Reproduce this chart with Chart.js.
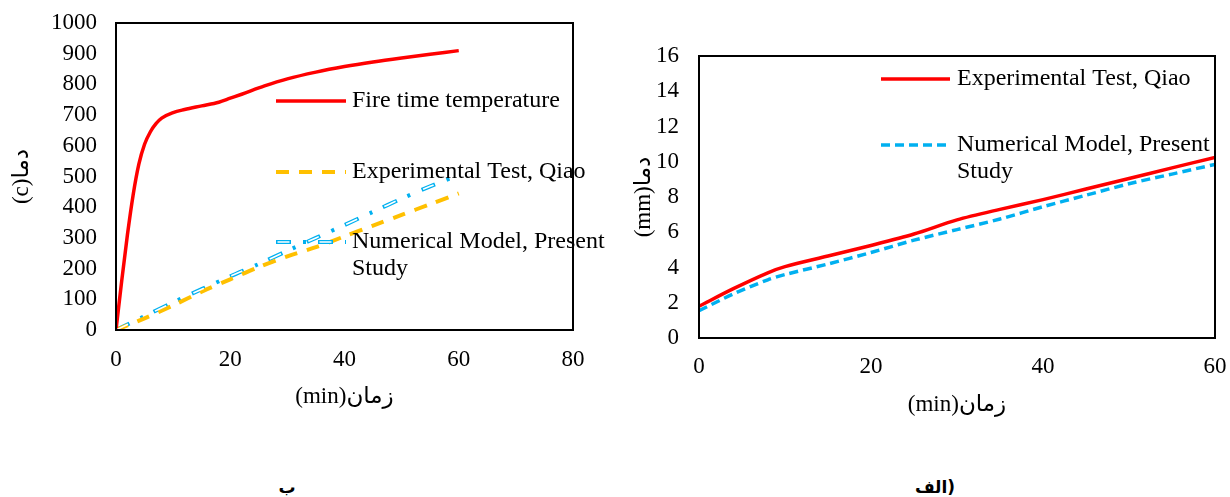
<!DOCTYPE html>
<html>
<head>
<meta charset="utf-8">
<script src="https://cdn.jsdelivr.net/npm/chart.js@4.4.1/dist/chart.umd.min.js"></script>
<style>
    body { margin: 0; background: #fff; width: 1230px; height: 497px; position: relative; overflow: hidden; }
    canvas { position: absolute; top: 0; }
    #left-chart { left: 0; }
    #right-chart { left: 615px; }
    .caption { position: absolute; top: 477px; font: bold 17px "DejaVu Sans", sans-serif; transform: translateX(-50%); white-space: nowrap; }
</style>
</head>
<body>
<canvas id="left-chart" width="615" height="430"></canvas>
<canvas id="right-chart" width="615" height="430"></canvas>
<div class="caption" style="left:287px">ب</div>
<div class="caption" style="left:935px">الف)</div>
<script>
// chart ب : temperature vs time
const fireTime = [0, 1, 2, 3, 4, 5, 6, 7, 8, 10, 12, 15, 18, 20, 22, 26, 30, 35, 40, 45, 50, 55, 60];
const fireTemp = [0, 160, 310, 440, 540, 605, 645, 672, 690, 708, 718, 730, 742, 755, 768, 795, 818, 840, 858, 873, 886, 898, 910];
const tempTime = [0, 5, 10, 15, 20, 25, 30, 35, 40, 45, 50, 55, 60];
const qiaoTemp = [0, 38, 80, 125, 165, 205, 240, 270, 305, 340, 375, 410, 445];
const numTemp = [0, 45, 90, 133, 175, 215, 258, 300, 342, 385, 428, 468, 505];

// chart الف : displacement vs time
const dispTime = [0, 4, 8, 10, 15, 20, 25, 30, 35, 40, 45, 50, 55, 60];
const qiaoDisp = [1.8, 2.8, 3.7, 4.05, 4.65, 5.25, 5.9, 6.7, 7.3, 7.85, 8.45, 9.05, 9.65, 10.25];
const numDisp = [1.55, 2.5, 3.3, 3.6, 4.2, 4.85, 5.55, 6.15, 6.75, 7.45, 8.1, 8.75, 9.3, 9.85];

const serif = '"Liberation Serif", "DejaVu Sans", serif';
const RED = '#FF0000', ORANGE = '#FFC000', BLUE = '#00B0F0';

function toPoints(xs, ys) {
    return xs.map((x, i) => ({ x: x, y: ys[i] }));
}

// box around the plot area
const framePlugin = {
    id: 'frame',
    afterDatasetsDraw(chart) {
        const { ctx, chartArea: a } = chart;
        ctx.save();
        ctx.strokeStyle = '#000';
        ctx.lineWidth = 2;
        ctx.strokeRect(a.left, a.top, a.right - a.left, a.bottom - a.top);
        ctx.restore();
    }
};

// legend drawn where the original has it, styles taken from the datasets
const legendPlugin = {
    id: 'boxLegend',
    afterDraw(chart, args, opts) {
        const ctx = chart.ctx;
        ctx.save();
        chart.data.datasets.forEach(ds => {
            const y = opts.rows[ds.row];
            ctx.beginPath();
            ctx.strokeStyle = ds.borderColor;
            ctx.lineWidth = ds.borderWidth;
            ctx.setLineDash(ds.borderDash || []);
            ctx.lineDashOffset = ds.borderDashOffset || 0;
            ctx.moveTo(opts.x1, y);
            ctx.lineTo(opts.x2, y);
            ctx.stroke();
            if (ds.overlay) return;
            ctx.setLineDash([]);
            ctx.font = '24px ' + serif;
            ctx.fillStyle = '#000';
            ctx.textBaseline = 'middle';
            [].concat(ds.label).forEach((t, k) => ctx.fillText(t, opts.textX, y + k * 27));
        });
        ctx.restore();
    }
};

function axes(cfg) {
    const tickFont = { family: serif, size: 23 };
    const titleFont = { family: serif, size: 23 };
    // invisible tick marks give the label gap without adding padding at the top
    const hiddenTicks = len => ({ display: true, drawOnChartArea: false, drawTicks: true, tickLength: len, tickColor: 'rgba(0,0,0,0)' });
    return {
        x: {
            type: 'linear', min: 0, max: cfg.xMax,
            grid: hiddenTicks(cfg.xPad), border: { display: false },
            ticks: { stepSize: 20, color: '#000', font: tickFont, padding: 0, maxRotation: 0, autoSkip: false, callback: v => String(v) },
            title: { display: true, text: '(min)زمان', color: '#000', font: titleFont, padding: 0 },
            afterFit: s => { s.height = 81; }
        },
        y: {
            min: 0, max: cfg.yMax,
            grid: hiddenTicks(cfg.yPad), border: { display: false },
            ticks: { stepSize: cfg.yStep, color: '#000', font: tickFont, padding: 0, autoSkip: false, callback: v => String(v) },
            title: { display: true, text: cfg.yTitle, color: '#000', font: titleFont, padding: { top: cfg.yTitlePad, bottom: 0 } },
            afterFit: s => { s.width = cfg.yWidth; }
        }
    };
}

Chart.defaults.animation = false;

new Chart(document.getElementById('left-chart'), {
    type: 'line',
    data: {
        datasets: [
            { label: 'Fire time temperature', row: 0, data: toPoints(fireTime, fireTemp),
              borderColor: RED, borderWidth: 3.5, cubicInterpolationMode: 'monotone', pointRadius: 0 },
            { label: 'Experimental Test, Qiao', row: 1, data: toPoints(tempTime, qiaoTemp),
              borderColor: ORANGE, borderWidth: 4, borderDash: [13, 10], tension: 0.3, pointRadius: 0 },
            { label: ['Numerical Model, Present', 'Study'], row: 2, data: toPoints(tempTime, numTemp),
              borderColor: BLUE, borderWidth: 4, borderDash: [15, 12, 3, 12], tension: 0.3, pointRadius: 0 },
            // white core inside the long blue dashes (hollow look)
            { label: '', row: 2, overlay: true, order: -1, data: toPoints(tempTime, numTemp),
              borderColor: '#fff', borderWidth: 1.6, borderDash: [12, 30], borderDashOffset: 40.5, tension: 0.3, pointRadius: 0 }
        ]
    },
    options: {
        responsive: false,
        layout: { padding: { top: 23, left: 0, right: 42, bottom: 19 } },
        plugins: {
            legend: { display: false }, tooltip: { enabled: false },
            boxLegend: { x1: 276, x2: 346, textX: 352, rows: [101, 172, 242] }
        },
        scales: axes({ xMax: 80, xPad: 16, yMax: 1000, yStep: 100, yPad: 19, yTitle: '(c)دما', yTitlePad: 8, yWidth: 116 })
    },
    plugins: [framePlugin, legendPlugin]
});

new Chart(document.getElementById('right-chart'), {
    type: 'line',
    data: {
        datasets: [
            { label: 'Experimental Test, Qiao', row: 0, data: toPoints(dispTime, qiaoDisp),
              borderColor: RED, borderWidth: 3.5, tension: 0.3, pointRadius: 0 },
            { label: ['Numerical Model, Present', 'Study'], row: 1, data: toPoints(dispTime, numDisp),
              borderColor: BLUE, borderWidth: 3.5, borderDash: [9, 5], tension: 0.3, pointRadius: 0 }
        ]
    },
    options: {
        responsive: false,
        layout: { padding: { top: 56, left: 0, right: 15, bottom: 11 } },
        plugins: {
            legend: { display: false }, tooltip: { enabled: false },
            boxLegend: { x1: 266, x2: 335, textX: 342, rows: [79, 145] }
        },
        scales: axes({ xMax: 60, xPad: 15, yMax: 16, yStep: 2, yPad: 20, yTitle: '(mm)دما', yTitlePad: 15, yWidth: 84 })
    },
    plugins: [framePlugin, legendPlugin]
});
</script>
</body>
</html>
